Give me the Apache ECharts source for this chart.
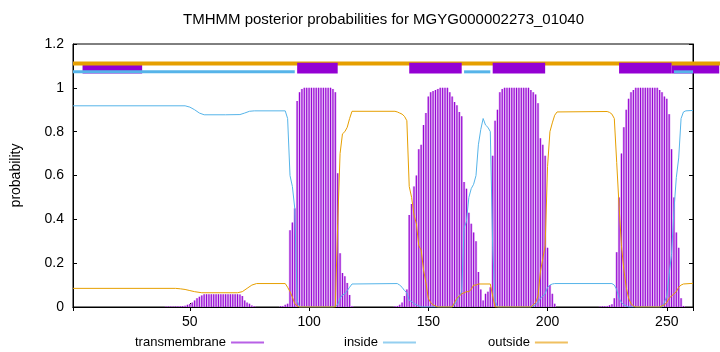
<!DOCTYPE html>
<html>
<head>
<meta charset="utf-8">
<script src="https://cdn.jsdelivr.net/npm/echarts@6/dist/echarts.min.js"></script>
<style>
  html, body { margin: 0; padding: 0; background: #fff; }
  #chart { width: 720px; height: 352px; }
</style>
</head>
<body>
<div id="chart"></div>
<script>
// TMHMM posterior probabilities, residue -> probability
var tmProb = [
  [40, 0.002], [41, 0.002], [42, 0.002], [43, 0.002], [44, 0.002], [45, 0.003], [46, 0.003], [47, 0.004], [48, 0.006], [49, 0.01],
  [50, 0.014], [51, 0.02], [52, 0.03], [53, 0.04], [54, 0.047], [55, 0.053], [56, 0.058], [57, 0.058], [58, 0.058], [59, 0.058],
  [60, 0.058], [61, 0.058], [62, 0.058], [63, 0.058], [64, 0.058], [65, 0.058], [66, 0.058], [67, 0.058], [68, 0.058], [69, 0.058],
  [70, 0.058], [71, 0.057], [72, 0.05], [73, 0.03], [74, 0.02], [75, 0.015], [76, 0.007], [77, 0.003],
  [88, 0.003], [89, 0.005], [90, 0.01], [91, 0.015], [92, 0.35], [93, 0.385], [94, 0.45], [95, 0.94], [96, 0.98], [97, 0.995],
  [98, 1], [99, 1], [100, 1], [101, 1], [102, 1], [103, 1], [104, 1], [105, 1], [106, 1], [107, 1], [108, 1], [109, 1],
  [110, 0.995], [111, 0.98], [112, 0.61], [113, 0.245], [114, 0.155], [115, 0.14], [116, 0.11], [117, 0.055], [118, 0.005],
  [136, 0.003], [137, 0.005], [138, 0.01], [139, 0.02], [140, 0.05], [141, 0.08], [142, 0.42], [143, 0.47], [144, 0.55], [145, 0.6],
  [146, 0.72], [147, 0.74], [148, 0.83], [149, 0.885], [150, 0.96], [151, 0.98], [152, 0.985], [153, 0.99], [154, 0.995], [155, 1],
  [156, 1], [157, 1], [158, 1], [159, 0.98], [160, 0.96], [161, 0.935], [162, 0.92], [163, 0.89], [164, 0.87], [165, 0.57],
  [166, 0.54], [167, 0.43], [168, 0.38], [169, 0.34], [170, 0.3], [171, 0.16], [172, 0.08], [173, 0.03], [174, 0.06], [175, 0.07],
  [176, 0.09], [177, 0.69], [178, 0.85], [179, 0.9], [180, 0.98], [181, 0.995], [182, 1], [183, 1], [184, 1], [185, 1],
  [186, 1], [187, 1], [188, 1], [189, 1], [190, 1], [191, 1], [192, 1], [193, 0.99], [194, 0.98], [195, 0.97],
  [196, 0.93], [197, 0.77], [198, 0.74], [199, 0.69], [200, 0.27], [201, 0.1], [202, 0.06], [203, 0.015],
  [222, 0.002], [223, 0.003], [224, 0.003], [225, 0.005], [226, 0.008], [227, 0.012], [228, 0.04], [229, 0.25], [230, 0.5],
  [231, 0.7], [232, 0.82], [233, 0.9], [234, 0.95], [235, 0.98], [236, 0.99], [237, 1], [238, 1], [239, 1], [240, 1],
  [241, 1], [242, 1], [243, 1], [244, 1], [245, 1], [246, 1], [247, 0.99], [248, 0.98], [249, 0.96], [250, 0.95],
  [251, 0.88], [252, 0.72], [253, 0.5], [254, 0.34], [255, 0.27], [256, 0.04], [257, 0.005]
];

var insideProb = [
  [1, 0.918], [48, 0.918], [50, 0.912], [52, 0.9], [54, 0.885], [56, 0.877], [65, 0.877], [71, 0.878], [73, 0.885], [75, 0.893],
  [77, 0.895], [90, 0.895], [91, 0.86], [92, 0.6], [93, 0.55], [94, 0.45], [95, 0.03], [96, 0], [110, 0], [111, 0.005],
  [112, 0.01], [113, 0.04], [114, 0.055], [115, 0.06], [116, 0.075], [117, 0.09], [118, 0.105], [137, 0.107], [138, 0.1], [139, 0.09],
  [140, 0.075], [141, 0.065], [142, 0.03], [143, 0.025], [144, 0.015], [145, 0.01], [146, 0.005], [147, 0], [160, 0], [161, 0.01],
  [162, 0.03], [163, 0.05], [164, 0.07], [165, 0.36], [166, 0.39], [167, 0.5], [168, 0.54], [169, 0.56], [170, 0.6], [171, 0.74],
  [172, 0.81], [173, 0.86], [174, 0.83], [175, 0.82], [176, 0.8], [177, 0.27], [178, 0.03], [179, 0], [193, 0], [194, 0.005],
  [195, 0.01], [196, 0.02], [197, 0.04], [198, 0.05], [199, 0.06], [200, 0.09], [201, 0.1], [202, 0.105], [203, 0.107], [227, 0.107],
  [228, 0.1], [229, 0.08], [230, 0.04], [231, 0.02], [232, 0.01], [233, 0.005], [234, 0], [248, 0], [249, 0.02], [250, 0.05],
  [251, 0.15], [252, 0.24], [253, 0.44], [254, 0.59], [255, 0.68], [256, 0.86], [257, 0.89], [258, 0.895], [261, 0.897]
];

var outsideProb = [
  [1, 0.085], [44, 0.085], [46, 0.083], [48, 0.08], [50, 0.075], [52, 0.07], [55, 0.065], [70, 0.065], [72, 0.07], [74, 0.085],
  [76, 0.1], [78, 0.107], [90, 0.107], [91, 0.09], [92, 0.07], [93, 0.045], [94, 0.015], [95, 0.005], [96, 0], [111, 0],
  [112, 0.38], [113, 0.7], [114, 0.79], [115, 0.8], [116, 0.82], [117, 0.86], [118, 0.893], [136, 0.893], [137, 0.89], [138, 0.885],
  [139, 0.88], [140, 0.87], [141, 0.85], [142, 0.55], [143, 0.5], [144, 0.42], [145, 0.38], [146, 0.28], [147, 0.26], [148, 0.17],
  [149, 0.11], [150, 0.04], [151, 0.02], [152, 0.01], [153, 0.005], [154, 0], [160, 0], [161, 0.02], [162, 0.04], [163, 0.05],
  [164, 0.06], [165, 0.065], [166, 0.07], [167, 0.07], [168, 0.08], [169, 0.1], [170, 0.1], [171, 0.105], [176, 0.105], [177, 0.05],
  [178, 0], [193, 0], [194, 0.01], [195, 0.02], [196, 0.05], [197, 0.16], [198, 0.22], [199, 0.28], [200, 0.64], [201, 0.8],
  [202, 0.84], [203, 0.875], [204, 0.89], [225, 0.892], [226, 0.888], [227, 0.88], [228, 0.86], [229, 0.66], [230, 0.46], [231, 0.28],
  [232, 0.17], [233, 0.09], [234, 0.04], [235, 0.015], [236, 0.005], [237, 0], [247, 0], [248, 0.005], [249, 0.01], [250, 0.02],
  [251, 0.04], [252, 0.05], [253, 0.06], [254, 0.07], [255, 0.09], [256, 0.1], [257, 0.105], [261, 0.108]
];

// predicted topology bars above the curves: [from, to]
var outsideSpans = [[1, 275]];
var insideSpans = [[1, 94], [165, 176], [253, 261]];
var helixSpans = [[95, 112], [142, 164], [177, 199], [230, 252]];
var faintSpans = [[5, 30], [252, 272]];

var FONT = "'Liberation Sans', Arial, sans-serif";
var chart = echarts.init(document.getElementById('chart'));

// horizontal band of fixed pixel thickness at value level
function bandRenderer(level, thick, color) {
  return function (params, api) {
    var a = api.coord([api.value(0), level]);
    var b = api.coord([api.value(1), level]);
    return {
      type: 'rect',
      shape: { x: a[0], y: a[1] - thick / 2, width: b[0] - a[0], height: thick },
      style: { fill: color }
    };
  };
}
// box between two value levels
function boxRenderer(lo, hi, color) {
  return function (params, api) {
    var a = api.coord([api.value(0), hi]);
    var b = api.coord([api.value(1), lo]);
    return {
      type: 'rect',
      shape: { x: a[0], y: a[1], width: b[0] - a[0], height: b[1] - a[1] },
      style: { fill: color }
    };
  };
}
// one key entry, gnuplot style: text first, sample line after
function keyEntry(name, left, color) {
  return {
    data: [{ name: name, itemStyle: { color: color } }],
    left: left, top: 331, align: 'right', icon: 'rect',
    itemWidth: 33, itemHeight: 2,
    textStyle: { fontFamily: FONT, fontSize: 13, color: '#000' }
  };
}

var tickCommon = { show: true, inside: true, length: 4, lineStyle: { color: '#000' } };
var lineCommon = { show: true, lineStyle: { color: '#000', width: 1 } };

var option = {
  animation: false,
  backgroundColor: '#fff',
  title: {
    text: 'TMHMM posterior probabilities for MGYG000002273_01040',
    left: 183,
    top: 12,
    padding: 0,
    textStyle: { fontFamily: FONT, fontSize: 15, fontWeight: 'normal', color: '#000' }
  },
  legend: [
    keyEntry('transmembrane', 130, '#b860e6'),
    keyEntry('inside', 339, '#94cff0'),
    keyEntry('outside', 483, '#f0c060')
  ],
  grid: { left: 73, right: 27, top: 44, bottom: 45, show: true, borderColor: '#000', borderWidth: 1, containLabel: false },
  xAxis: [
    {
      type: 'value', min: 1, max: 261, position: 'bottom',
      axisLine: lineCommon, axisTick: tickCommon, splitLine: { show: false },
      axisLabel: {
        margin: 8, color: '#000', fontFamily: FONT, fontSize: 14,
        formatter: function (v) { return v % 50 === 0 ? String(v) : ''; }
      }
    },
    {
      type: 'value', min: 1, max: 261, position: 'top',
      axisLine: lineCommon, axisTick: tickCommon, splitLine: { show: false }, axisLabel: { show: false }
    }
  ],
  yAxis: [
    {
      type: 'value', min: 0, max: 1.2, interval: 0.2, position: 'left',
      name: 'probability', nameLocation: 'middle', nameGap: 50, nameRotate: 90,
      nameTextStyle: { fontFamily: FONT, fontSize: 14, color: '#000' },
      axisLine: lineCommon, axisTick: tickCommon, splitLine: { show: false },
      axisLabel: { margin: 9, color: '#000', fontFamily: FONT, fontSize: 14 }
    },
    {
      type: 'value', min: 0, max: 1.2, interval: 0.2, position: 'right',
      axisLine: lineCommon, axisTick: tickCommon, splitLine: { show: false }, axisLabel: { show: false }
    }
  ],
  series: [
    {
      name: 'tmHalo', type: 'bar', xAxisIndex: 1, yAxisIndex: 0, data: tmProb,
      barWidth: 2.4, itemStyle: { color: '#dcaaf0' }, silent: true, z: 1
    },
    {
      name: 'transmembrane', type: 'bar', xAxisIndex: 0, yAxisIndex: 0, data: tmProb,
      barWidth: 1, itemStyle: { color: '#9400d3' }, silent: true, z: 2
    },
    {
      name: 'inside', type: 'line', data: insideProb, showSymbol: false, silent: true, z: 3,
      itemStyle: { color: '#56b4e9' }, lineStyle: { color: '#56b4e9', width: 1 }
    },
    {
      name: 'outside', type: 'line', data: outsideProb, showSymbol: false, silent: true, z: 3,
      itemStyle: { color: '#e69f00' }, lineStyle: { color: '#e69f00', width: 1 }
    },
    { type: 'custom', data: faintSpans, clip: false, silent: true, z: 4, encode: { x: [0, 1] }, renderItem: boxRenderer(1.065, 1.114, '#9400d3') },
    { type: 'custom', data: outsideSpans, clip: false, silent: true, z: 5, encode: { x: [0, 1] }, renderItem: bandRenderer(1.111, 4, '#e69f00') },
    { type: 'custom', data: insideSpans, clip: false, silent: true, z: 6, encode: { x: [0, 1] }, renderItem: bandRenderer(1.073, 3, '#56b4e9') },
    { type: 'custom', data: helixSpans, clip: false, silent: true, z: 7, encode: { x: [0, 1] }, renderItem: boxRenderer(1.065, 1.114, '#9400d3') }
  ]
};

chart.setOption(option);
window.addEventListener('resize', function () {
  chart.resize();
});
</script>
</body>
</html>
